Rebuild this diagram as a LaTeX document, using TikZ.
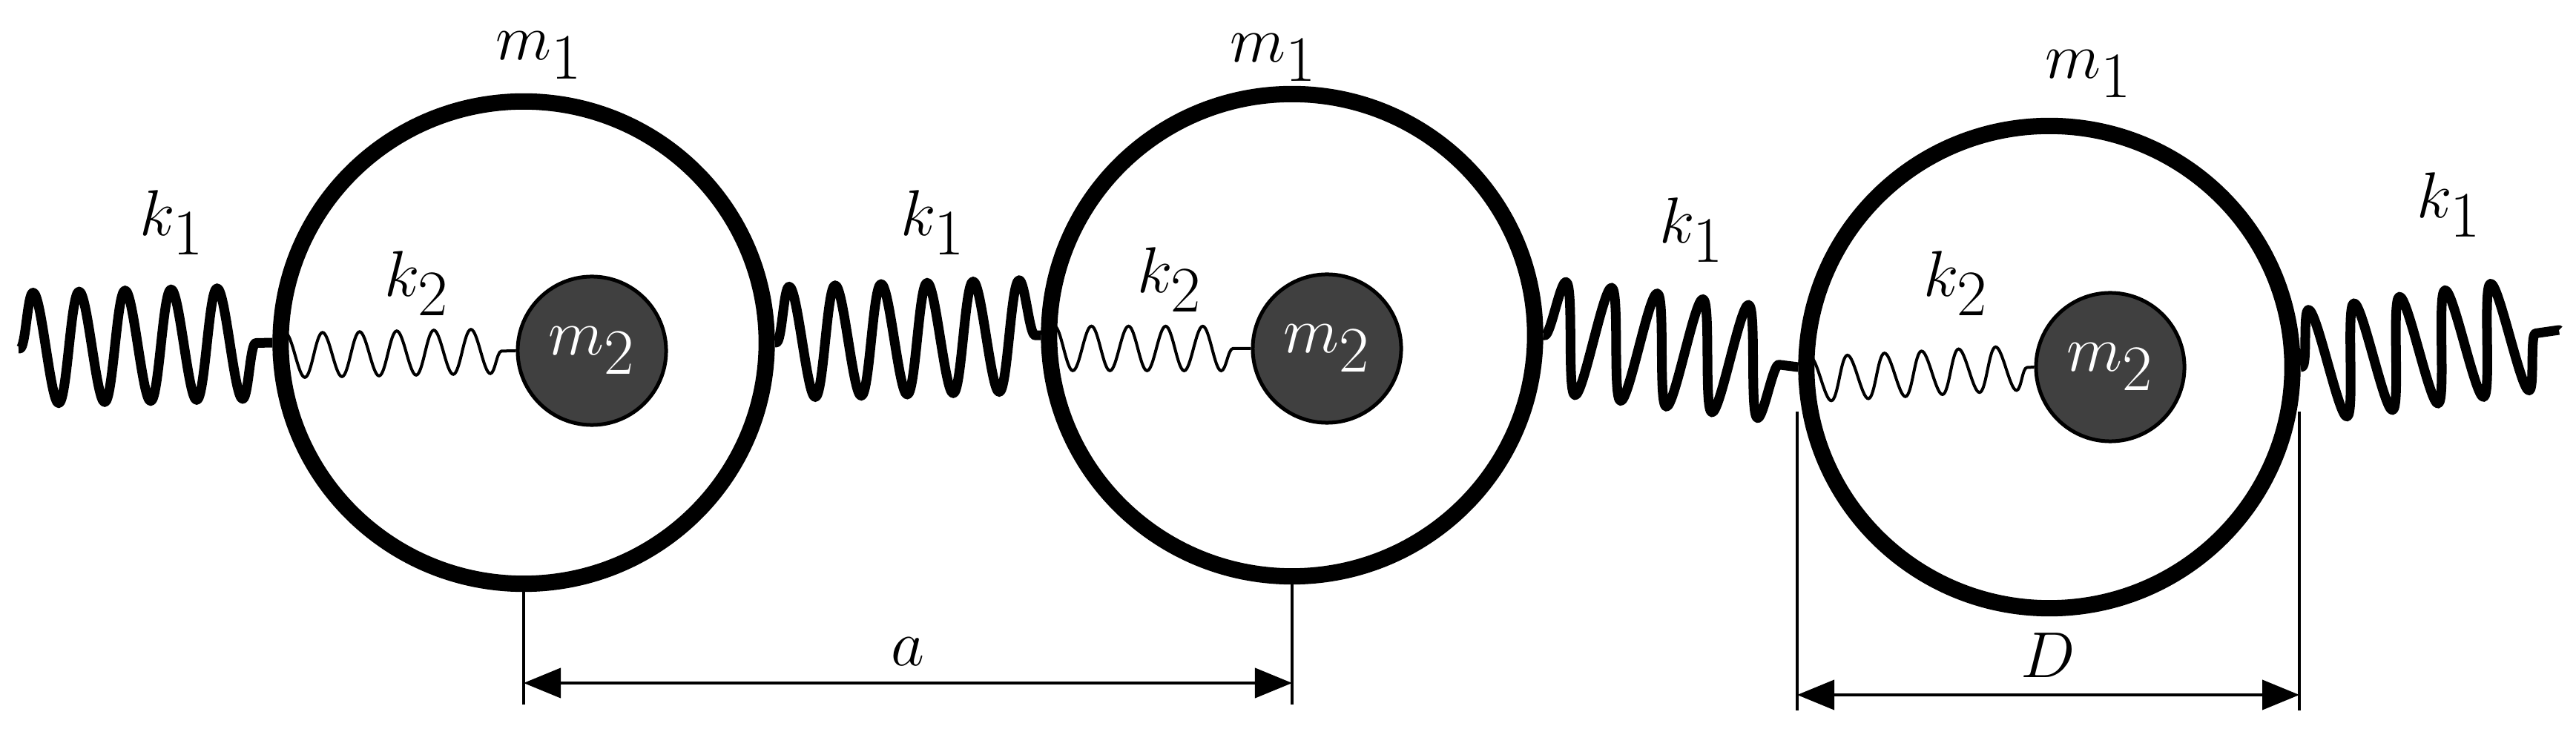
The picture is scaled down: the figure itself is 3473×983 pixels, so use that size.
\documentclass[tikz,border=0pt]{standalone}
\usetikzlibrary{decorations.pathmorphing,arrows.meta,shapes.geometric}
\begin{document}
\begin{tikzpicture}[x=0.01cm,y=-0.01cm,
  big/.style={ellipse,draw,line width=0.22cm,minimum width=6.55cm,minimum height=6.5cm,inner sep=0pt},
  small/.style={circle,draw,line width=0.05cm,fill=black!75,minimum size=2cm,inner sep=0pt,text=white,font=\fontsize{34}{40}\selectfont},
  k1s/.style={line width=0.13cm,line join=round,decorate,decoration={snake,segment length=0.62cm,amplitude=0.75cm,pre length=0.02cm,post length=0.02cm}},
  k2s/.style={line width=0.04cm,decorate,decoration={snake,segment length=0.5cm,amplitude=0.3cm,pre length=0.02cm,post length=0.02cm}},
  lab/.style={font=\fontsize{34}{40}\selectfont},
  dim/.style={line width=0.04cm},
  arr/.style={line width=0.04cm,{Triangle[length=0.5cm,width=0.4cm]}-{Triangle[length=0.5cm,width=0.4cm]}}]
\useasboundingbox (0,0) rectangle (3473,983);
\node[big] (c1) at (706,462) {};
\node[big] (c2) at (1742,452) {};
\node[big] (c3) at (2763,495) {};
\node[small] (m1) at (798,473) {$m_2$};
\node[small] (m2) at (1789,470) {$m_2$};
\node[small] (m3) at (2845,495) {$m_2$};
\coordinate (L) at (25,470);
\coordinate (R) at (3450,445);
\draw[k1s] (L) -- (c1.west);
\draw[k1s] (c1.east) -- (c2.west);
\draw[k1s] (c2.east) -- (c3.west);
\draw[k1s] (c3.east) -- (R);
\draw[k2s] (c1.183) -- (m1.west);
\draw[k2s] (c2.183) -- (m2.west);
\draw[k2s] (c3.183) -- (m3.west);
\node[lab] (ta) at (727,75) {$m_1$};
\node[lab] (tb) at (1717,78) {$m_1$};
\node[lab] (tc) at (2816,100) {$m_1$};
\node[lab] (ka) at (232,300) {$k_1$};
\node[lab] (kb) at (1258,300) {$k_1$};
\node[lab] (kc) at (2281,310) {$k_1$};
\node[lab] (kd) at (3302,276) {$k_1$};
\node[lab] (qa) at (562,382) {$k_2$};
\node[lab] (qb) at (1577,377) {$k_2$};
\node[lab] (qc) at (2637,382) {$k_2$};
\coordinate (a1b) at (706,950);
\coordinate (a2b) at (1742,950);
\draw[dim] (c1.south) -- (a1b);
\draw[dim] (c2.south) -- (a2b);
\draw[arr] (706,921) -- node[lab,above=0.1cm] (la) {$a$} (1742,921);
\coordinate (d1) at (2423,555);
\coordinate (d2) at (3100,555);
\draw[dim] (d1) -- (2423,958);
\draw[dim] (d2) -- (3100,958);
\draw[arr] (2423,937) -- node[lab,above=0.1cm] (ld) {$D$} (3100,937);
\end{tikzpicture}
\end{document}
